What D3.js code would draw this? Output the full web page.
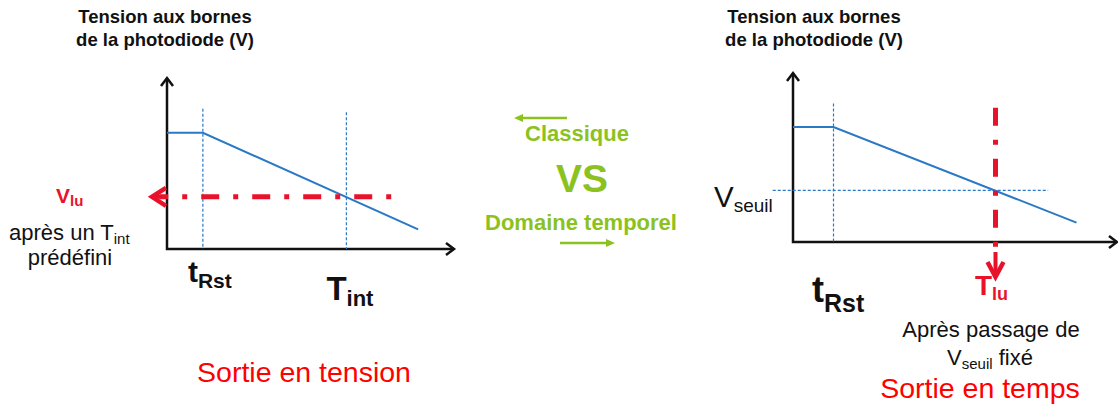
<!DOCTYPE html>
<html>
<head>
<meta charset="utf-8">
<script src="https://cdn.jsdelivr.net/npm/d3@7"></script>
<style>
  body { margin: 0; background: #fff; }
  svg { display: block; font-family: "Liberation Sans", Arial, sans-serif; }
</style>
</head>
<body>
<div id="container"></div>
<script>
// data (time in arbitrary units, voltage in arbitrary units)
const time = [0, 1, 7];
const voltage = [6.8, 6.8, 1.15];
const tRst = 1;          // reset instant
const tRead = 5;         // T_int (left) / T_lu (right)
const vRead = 3.05;      // V_lu (left) / V_seuil (right)
const xMax = 8;
const yMax = 10;

const width = 1118, height = 410;
const blue = "#2a79c6", red = "#e8132b", green = "#8cc21e";

const svg = d3.select("#container").append("svg")
  .attr("width", width)
  .attr("height", height);

// draw one panel, returns its scales
function panel(xr, yr, cx) {
  const x = d3.scaleLinear().domain([0, xMax]).range(xr);
  const y = d3.scaleLinear().domain([0, yMax]).range(yr);
  const g = svg.append("g");

  // title
  const title = g.append("text")
    .attr("text-anchor", "middle")
    .attr("font-weight", "bold")
    .attr("font-size", 18.5)
    .attr("fill", "#111");
  title.append("tspan").attr("x", cx).attr("y", 23).text("Tension aux bornes");
  title.append("tspan").attr("x", cx).attr("y", 46).text("de la photodiode (V)");

  // axes
  g.append("path")
    .attr("d", `M${x(0)},${y(yMax)}V${y(0)}H${x(xMax)}`)
    .attr("fill", "none").attr("stroke", "#111").attr("stroke-width", 2.5);
  g.append("path")
    .attr("d", `M${x(0) - 6},${y(yMax) + 8}L${x(0)},${y(yMax)}L${x(0) + 6},${y(yMax) + 8}`)
    .attr("fill", "none").attr("stroke", "#111").attr("stroke-width", 2.5);
  g.append("path")
    .attr("d", `M${x(xMax) - 8},${y(0) - 6}L${x(xMax)},${y(0)}L${x(xMax) - 8},${y(0) + 6}`)
    .attr("fill", "none").attr("stroke", "#111").attr("stroke-width", 2.5);

  // tRst guide
  g.append("line")
    .attr("x1", x(tRst)).attr("x2", x(tRst))
    .attr("y1", y(8.2)).attr("y2", y(0))
    .attr("stroke", blue).attr("stroke-width", 1.2).attr("stroke-dasharray", "3,2");

  // signal
  const line = d3.line().x(d => x(d[0])).y(d => y(d[1]));
  g.append("path")
    .datum(d3.zip(time, voltage))
    .attr("d", line)
    .attr("fill", "none").attr("stroke", blue).attr("stroke-width", 2);

  return { x, y, g };
}

// ---- left panel: classic, voltage output
const L = panel([167, 454], [249, 78], 165);
L.g.append("line")
  .attr("x1", L.x(tRead)).attr("x2", L.x(tRead))
  .attr("y1", L.y(8.0)).attr("y2", L.y(0))
  .attr("stroke", blue).attr("stroke-width", 1.2).attr("stroke-dasharray", "3,2");
// red dash-dot read line, drawn from right to left so it ends on the arrow
L.g.append("line")
  .attr("x1", L.x(6.25)).attr("x2", L.x(-0.2))
  .attr("y1", L.y(vRead)).attr("y2", L.y(vRead))
  .attr("stroke", red).attr("stroke-width", 5).attr("stroke-dasharray", "5,14,18,14");
L.g.append("line")
  .attr("x1", L.x(-0.4)).attr("x2", L.x(0))
  .attr("y1", L.y(vRead)).attr("y2", L.y(vRead))
  .attr("stroke", red).attr("stroke-width", 4);
L.g.append("path")
  .attr("d", `M${L.x(-0.42) + 14},${L.y(vRead) - 9}L${L.x(-0.42)},${L.y(vRead)}L${L.x(-0.42) + 14},${L.y(vRead) + 9}`)
  .attr("fill", "none").attr("stroke", red).attr("stroke-width", 4.5);

let t = L.g.append("text").attr("x", 56).attr("y", 203).attr("fill", red).attr("font-weight", "bold").attr("font-size", 21);
t.append("tspan").text("V");
t.append("tspan").attr("font-size", 15).attr("dy", 3).text("lu");

t = L.g.append("text").attr("x", 9).attr("y", 240).attr("fill", "#111").attr("font-size", 22);
t.append("tspan").text("après un T");
t.append("tspan").attr("font-size", 15).attr("dy", 4).text("int");
L.g.append("text").attr("x", 70).attr("y", 265).attr("text-anchor", "middle")
  .attr("fill", "#111").attr("font-size", 22).text("prédéfini");

t = L.g.append("text").attr("x", L.x(tRst) - 15).attr("y", 282).attr("fill", "#111").attr("font-weight", "bold").attr("font-size", 30);
t.append("tspan").text("t");
t.append("tspan").attr("font-size", 21).attr("dy", 6).text("Rst");

t = L.g.append("text").attr("x", L.x(tRead) - 20).attr("y", 300).attr("fill", "#111").attr("font-weight", "bold").attr("font-size", 33);
t.append("tspan").text("T");
t.append("tspan").attr("font-size", 22).attr("dy", 6).text("int");

L.g.append("text").attr("x", 304).attr("y", 382).attr("text-anchor", "middle")
  .attr("fill", "#ff0000").attr("font-size", 28.5).text("Sortie en tension");

// ---- right panel: time domain, time output
const R = panel([793, 1117], [242, 73], 814);
R.g.append("line")
  .attr("x1", R.x(-0.5)).attr("x2", R.x(6.3))
  .attr("y1", R.y(vRead)).attr("y2", R.y(vRead))
  .attr("stroke", blue).attr("stroke-width", 1.2).attr("stroke-dasharray", "3,2");
R.g.append("line")
  .attr("x1", R.x(tRead)).attr("x2", R.x(tRead))
  .attr("y1", R.y(7.95)).attr("y2", R.y(-0.3))
  .attr("stroke", red).attr("stroke-width", 5).attr("stroke-dasharray", "18,14,5,14");
R.g.append("path")
  .attr("d", `M${R.x(tRead) - 8},${262}L${R.x(tRead)},${277}L${R.x(tRead) + 8},${262}`)
  .attr("fill", "none").attr("stroke", red).attr("stroke-width", 4.5);
R.g.append("line")
  .attr("x1", R.x(tRead)).attr("x2", R.x(tRead))
  .attr("y1", 252).attr("y2", 274)
  .attr("stroke", red).attr("stroke-width", 4);

t = R.g.append("text").attr("x", 714).attr("y", 207).attr("fill", "#111").attr("font-size", 29.5);
t.append("tspan").text("V");
t.append("tspan").attr("font-size", 19).attr("dy", 5).text("seuil");

t = R.g.append("text").attr("x", 812).attr("y", 302).attr("fill", "#111").attr("font-weight", "bold").attr("font-size", 36);
t.append("tspan").text("t");
t.append("tspan").attr("font-size", 25).attr("dy", 10).text("Rst");

t = R.g.append("text").attr("x", 975).attr("y", 295).attr("fill", red).attr("font-weight", "bold").attr("font-size", 28);
t.append("tspan").text("T");
t.append("tspan").attr("font-size", 18).attr("dy", 5).text("lu");

R.g.append("text").attr("x", 991).attr("y", 337).attr("text-anchor", "middle")
  .attr("fill", "#111").attr("font-size", 22).text("Après passage de");
t = R.g.append("text").attr("x", 990).attr("y", 365).attr("text-anchor", "middle").attr("fill", "#111").attr("font-size", 22);
t.append("tspan").text("V");
t.append("tspan").attr("font-size", 15).attr("dy", 4).text("seuil");
t.append("tspan").attr("dy", -4).text(" fixé");
R.g.append("text").attr("x", 980).attr("y", 398).attr("text-anchor", "middle")
  .attr("fill", "#ff0000").attr("font-size", 28.5).text("Sortie en temps");

// ---- middle: Classique VS Domaine temporel
const M = svg.append("g").attr("fill", green).attr("font-weight", "bold");
M.append("text").attr("x", 577).attr("y", 141).attr("text-anchor", "middle").attr("font-size", 22).text("Classique");
M.append("text").attr("x", 582).attr("y", 192).attr("text-anchor", "middle").attr("font-size", 39).text("VS");
M.append("text").attr("x", 581).attr("y", 230).attr("text-anchor", "middle").attr("font-size", 22).text("Domaine temporel");

M.append("line").attr("x1", 520).attr("x2", 567).attr("y1", 118).attr("y2", 118)
  .attr("stroke", green).attr("stroke-width", 2.5);
M.append("path").attr("d", "M514,118L523,114L523,122Z").attr("stroke", "none");
M.append("line").attr("x1", 560).attr("x2", 609).attr("y1", 243).attr("y2", 243)
  .attr("stroke", green).attr("stroke-width", 2.5);
M.append("path").attr("d", "M615,243L606,239L606,247Z").attr("stroke", "none");
</script>
</body>
</html>
